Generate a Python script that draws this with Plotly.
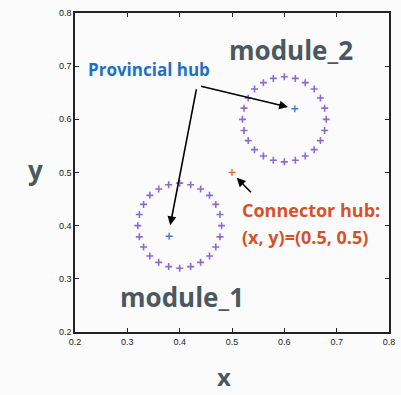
import plotly.graph_objects as go

# Data
module1_x = [0.480, 0.477, 0.469, 0.457, 0.440, 0.421, 0.400, 0.379, 0.360, 0.343, 0.331, 0.323,
             0.320, 0.323, 0.331, 0.343, 0.360, 0.379, 0.400, 0.421, 0.440, 0.457, 0.469, 0.477]
module1_y = [0.400, 0.421, 0.440, 0.457, 0.469, 0.477, 0.480, 0.477, 0.469, 0.457, 0.440, 0.421,
             0.400, 0.379, 0.360, 0.343, 0.331, 0.323, 0.320, 0.323, 0.331, 0.343, 0.360, 0.379]
module2_x = [0.680, 0.677, 0.669, 0.657, 0.640, 0.621, 0.600, 0.579, 0.560, 0.543, 0.531, 0.523,
             0.520, 0.523, 0.531, 0.543, 0.560, 0.579, 0.600, 0.621, 0.640, 0.657, 0.669, 0.677]
module2_y = [0.600, 0.621, 0.640, 0.657, 0.669, 0.677, 0.680, 0.677, 0.669, 0.657, 0.640, 0.621,
             0.600, 0.579, 0.560, 0.543, 0.531, 0.523, 0.520, 0.523, 0.531, 0.543, 0.560, 0.579]
provincial_x = [0.38, 0.62]
provincial_y = [0.38, 0.62]
connector_x = [0.5]
connector_y = [0.5]
tick_vals = [0.2, 0.3, 0.4, 0.5, 0.6, 0.7, 0.8]
tick_text = ["0.2", "0.3", "0.4", "0.5", "0.6", "0.7", "0.8"]

PURPLE = "#8c6bd1"
BLUE_HUB = "#3a7bd5"
ORANGE_HUB = "#f26a3a"
BLUE_TXT = "#1f6fc6"
ORANGE_TXT = "#d4532a"
GRAY_TXT = "#4b5861"
FONT = "Open Sans"

fig = go.Figure()
for xs, ys in [(module1_x, module1_y), (module2_x, module2_y)]:
    fig.add_trace(go.Scatter(x=xs, y=ys, mode="markers",
                             marker=dict(symbol="cross-thin", size=5, color=PURPLE,
                                         line=dict(color=PURPLE, width=1.6)),
                             showlegend=False, hoverinfo="skip"))
fig.add_trace(go.Scatter(x=provincial_x, y=provincial_y, mode="markers",
                         marker=dict(symbol="cross-thin", size=5, color=BLUE_HUB,
                                     line=dict(color=BLUE_HUB, width=1.4)),
                         showlegend=False))
fig.add_trace(go.Scatter(x=connector_x, y=connector_y, mode="markers",
                         marker=dict(symbol="cross-thin", size=5, color=ORANGE_HUB,
                                     line=dict(color=ORANGE_HUB, width=1.4)),
                         showlegend=False))

arrow = dict(showarrow=True, arrowhead=2, arrowsize=1.1, arrowwidth=1.6, arrowcolor="black",
             axref="x", ayref="y", xref="x", yref="y", text="")
annotations = [
    dict(arrow, x=0.607, y=0.623, ax=0.438, ay=0.663),
    dict(arrow, x=0.382, y=0.401, ax=0.4325, ay=0.659),
    dict(arrow, x=0.509, y=0.490, ax=0.539, ay=0.460),
    dict(x=0.342, y=0.693, xref="x", yref="y", text="<b>Provincial hub</b>", showarrow=False,
         font=dict(family=FONT, size=17, color=BLUE_TXT)),
    dict(x=0.6125, y=0.730, xref="x", yref="y", text="<b>module_2</b>", showarrow=False,
         font=dict(family=FONT, size=26, color=GRAY_TXT)),
    dict(x=0.405, y=0.266, xref="x", yref="y", text="<b>module_1</b>", showarrow=False,
         font=dict(family=FONT, size=26, color=GRAY_TXT)),
    dict(x=0.515, y=0.429, xref="x", yref="y", xanchor="left", text="<b>Connector hub:</b>",
         showarrow=False, font=dict(family=FONT, size=18, color=ORANGE_TXT)),
    dict(x=0.515, y=0.379, xref="x", yref="y", xanchor="left", text="<b>(x, y)=(0.5, 0.5)</b>",
         showarrow=False, font=dict(family=FONT, size=18, color=ORANGE_TXT)),
    dict(x=0.475, y=-0.14, xref="paper", yref="paper", text="<b>x</b>", showarrow=False,
         font=dict(family=FONT, size=24, color=GRAY_TXT), yanchor="middle"),
    dict(x=-0.156, y=0.508, xref="paper", yref="paper", text="<b>y</b>", showarrow=False,
         font=dict(family=FONT, size=26, color=GRAY_TXT), yanchor="middle"),
]

axis_common = dict(range=[0.2, 0.8], tickvals=tick_vals, ticktext=tick_text,
                   showgrid=False, zeroline=False, showline=True, linecolor="#222222", linewidth=1.5,
                   mirror="ticks", ticks="inside", ticklen=4, tickwidth=1, tickcolor="#222222",
                   tickfont=dict(family="Liberation Sans", size=9, color="#222222"))

fig.update_layout(
    width=401, height=395,
    margin=dict(l=75, r=6, t=13, b=63),
    paper_bgcolor="#fbfbfb", plot_bgcolor="#fbfbfb",
    xaxis=dict(axis_common),
    yaxis=dict(axis_common),
    annotations=annotations,
    showlegend=False,
)
fig.write_html("out.html", config={"displayModeBar": False},
               post_script="document.body.style.margin='0';document.body.style.overflow='hidden';")
